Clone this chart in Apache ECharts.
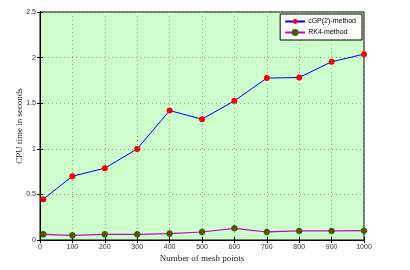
<!DOCTYPE html>
<html><head><meta charset="utf-8">
<script src="https://cdn.jsdelivr.net/npm/echarts@6/dist/echarts.min.js"></script>
<style>html,body{margin:0;padding:0;background:#fff}#c{width:410px;height:270px}</style>
</head><body><div id="c"></div>
<script>
const meshPoints = [10, 100, 200, 300, 400, 500, 600, 700, 800, 900, 1000];
const cgpTimes = [0.447, 0.699, 0.787, 0.999, 1.419, 1.325, 1.526, 1.775, 1.782, 1.954, 2.038];
const rk4Times = [0.062, 0.051, 0.062, 0.062, 0.070, 0.088, 0.128, 0.088, 0.099, 0.099, 0.102];
const xTicks = [0, 100, 200, 300, 400, 500, 600, 700, 800, 900, 1000];
const yTicks = [0, 0.5, 1, 1.5, 2, 2.5];
const seriesNames = ['cGP(2)-method', 'RK4-method'];

const chart = echarts.init(document.getElementById('c'), null, {renderer: 'canvas'});
const tickFont = {fontFamily: 'Liberation Sans', fontSize: 7, color: '#333'};
const gridLine = {show: true, lineStyle: {color: '#86a886', type: [1, 3], width: 1}};
chart.setOption({
  animation: false,
  backgroundColor: '#fff',
  grid: {left: 40, right: 46, top: 12, bottom: 30, show: true, backgroundColor: '#ccffcc', borderColor: '#000', borderWidth: 1},
  legend: {
    right: 48, top: 14, orient: 'vertical', itemWidth: 20, itemHeight: 6, itemGap: 4,
    backgroundColor: '#fff', borderColor: '#000', borderWidth: 1, padding: [4, 6, 4, 4],
    textStyle: {fontFamily: 'Liberation Sans', fontSize: 7, color: '#000', padding: [0, 0, 0, -2]},
    data: seriesNames
  },
  xAxis: [{
    type: 'value', min: 0, max: 1000, interval: 100,
    name: 'Number of mesh points', nameLocation: 'middle', nameGap: 14, nameMoveOverlap: false,
    nameTextStyle: {fontFamily: 'Liberation Serif', fontSize: 9, color: '#222'},
    axisLine: {show: true, lineStyle: {color: '#000'}},
    axisTick: {show: true, inside: true, length: 3, lineStyle: {color: '#000'}},
    axisLabel: Object.assign({margin: 4, formatter: v => xTicks.includes(v) ? String(v) : ''}, tickFont),
    splitLine: gridLine
  }, {
    type: 'value', position: 'top', min: 0, max: 1000, interval: 100,
    axisLine: {show: true, lineStyle: {color: '#000'}},
    axisTick: {show: true, inside: true, length: 3, lineStyle: {color: '#000'}},
    axisLabel: {show: false}, splitLine: {show: false}
  }],
  yAxis: [{
    type: 'value', min: 0, max: 2.5, interval: 0.5,
    name: 'CPU time in seconds', nameLocation: 'middle', nameGap: 16, nameMoveOverlap: false,
    nameTextStyle: {fontFamily: 'Liberation Serif', fontSize: 9, color: '#222'},
    axisLine: {show: true, lineStyle: {color: '#000'}},
    axisTick: {show: true, inside: true, length: 3, lineStyle: {color: '#000'}},
    axisLabel: Object.assign({margin: 4, formatter: v => yTicks.includes(v) ? String(v) : ''}, tickFont),
    splitLine: gridLine
  }, {
    type: 'value', position: 'right', min: 0, max: 2.5, interval: 0.5,
    axisLine: {show: true, lineStyle: {color: '#000'}},
    axisTick: {show: true, inside: true, length: 3, lineStyle: {color: '#000'}},
    axisLabel: {show: false}, splitLine: {show: false}
  }],
  series: [{
    name: seriesNames[0], type: 'line',
    data: meshPoints.map((x, i) => [x, cgpTimes[i]]),
    symbol: 'circle', symbolSize: 6,
    lineStyle: {color: '#0000ff', width: 1},
    itemStyle: {color: '#ff0000', borderColor: '#ff0000', borderWidth: 0}
  }, {
    name: seriesNames[1], type: 'line',
    data: meshPoints.map((x, i) => [x, rk4Times[i]]),
    symbol: 'circle', symbolSize: 5,
    lineStyle: {color: '#cc00cc', width: 1.2},
    itemStyle: {color: '#ff0000', borderColor: '#008000', borderWidth: 1.5}
  }]
});
</script></body></html>
